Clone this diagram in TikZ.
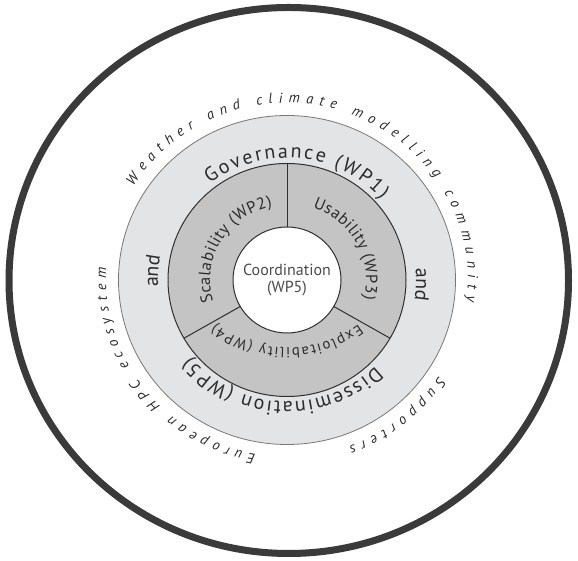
\documentclass[tikz,border=0pt]{standalone}
\usepackage{fontspec}
\setmainfont{PT Sans}
\usetikzlibrary{calc,decorations.text}

\definecolor{ringlight}{HTML}{E3E4E6}
\definecolor{ringmid}{HTML}{C4C4C4}
\definecolor{linegray}{HTML}{2F2F2F}
\definecolor{txtgray}{HTML}{2B2B2B}
\definecolor{framegray}{HTML}{3A3A3A}
\newcommand\wpbig{\fontsize{20}{20}\selectfont\color{txtgray}}
\newcommand\wpmid{\fontsize{16.5}{16.5}\selectfont\color{txtgray}}
\newcommand\wplow{\fontsize{14.8}{14.8}\selectfont\color{txtgray}}
\newcommand\wpouter{\fontsize{14.5}{14.5}\selectfont\itshape\color{txtgray}}

\begin{document}
\begin{tikzpicture}[x=1pt, y=1pt,
  fittext/.style 2 args={decorate, decoration={text along path, text align={fit to path}, text={|#1|#2}}},
  midtext/.style 2 args={decorate, decoration={text along path, text align=center, text={|#1|#2}}}]
  \useasboundingbox (0,0) rectangle (578,561);

  % centre of the rings
  \coordinate (c) at (287,281);

  % outer frame
  \draw[framegray, line width=7pt] (288.75,280.5) ellipse (279.75 and 273);

  % rings
  \draw[linegray!65, fill=ringlight, line width=0.8pt] (c) ellipse (168.5 and 164.5);
  \draw[linegray, fill=ringmid, line width=1pt] (c) ellipse (119 and 116.5);
  \draw[linegray, fill=white, line width=1pt] (c) ellipse (54 and 53);

  % sector borders
  \foreach \a in {90,210,330}
    \draw[linegray, line width=1pt] ($(c)+(\a:54 and 53)$) -- ($(c)+(\a:119 and 116.5)$);

  % centre
  \node[font=\fontsize{16}{17}\selectfont, text=txtgray!85, align=center] (coord) at (c) {Coordination\\(WP5)};

  % middle ring
  \path[fittext={\wpmid}{Scalability (WP2)}] ($(c)+(197:77 and 75)$) arc[start angle=197, end angle=101, x radius=77, y radius=75];
  \path[fittext={\wpmid}{Usability (WP3)}] ($(c)+(71:79 and 77)$) arc[start angle=71, end angle=-14, x radius=79, y radius=77];
  % flatter arc under the centre
  \coordinate (e) at (287,332);
  \path[fittext={\wplow}{Exploitability (WP4)}] ($(e)+(-53:119)$) arc[start angle=-53, end angle=-127, radius=119];

  % light ring
  \path[fittext={\wpbig}{Governance (WP1)}] ($(c)+(128:125 and 122)$) arc[start angle=128, end angle=41, x radius=125, y radius=122];
  \path[fittext={\wpbig}{Dissemination (WP5)}] ($(c)+(-45:125 and 122)$) arc[start angle=-45, end angle=-141, x radius=125, y radius=122];
  \path[midtext={\wpbig}{and}] ($(c)+(196:129 and 126)$) arc[start angle=196, end angle=156, x radius=129, y radius=126];
  \path[midtext={\wpbig}{and}] ($(c)+(18:129 and 126)$) arc[start angle=18, end angle=-22, x radius=129, y radius=126];

  % outside
  \path[fittext={\wpouter}{Weather and climate modelling community}] ($(c)+(148:181 and 177)$) arc[start angle=148, end angle=-7, x radius=181, y radius=177];
  \path[fittext={\wpouter}{Supporters}] ($(c)+(-33:181 and 177)$) arc[start angle=-33, end angle=-70, x radius=181, y radius=177];
  \path[fittext={\wpouter}{European HPC ecosystem}] ($(c)+(260:181 and 177)$) arc[start angle=260, end angle=176, x radius=181, y radius=177];
\end{tikzpicture}
\end{document}
